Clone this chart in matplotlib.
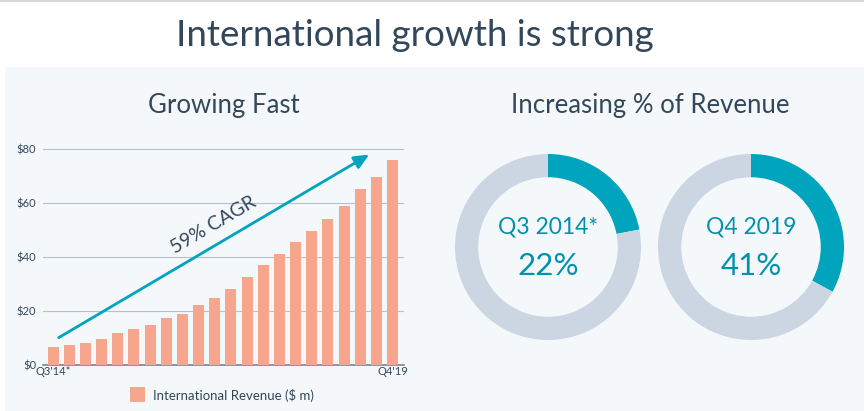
import matplotlib
matplotlib.use("Agg")
import matplotlib.pyplot as plt
from matplotlib.patches import Rectangle

plt.rcParams['font.family'] = ['Lato', 'DejaVu Sans']

# quarterly international revenue, Q3'14 .. Q4'19 ($ m)
quarters = ["Q3'14*", "Q4'14", "Q1'15", "Q2'15", "Q3'15", "Q4'15", "Q1'16", "Q2'16",
            "Q3'16", "Q4'16", "Q1'17", "Q2'17", "Q3'17", "Q4'17", "Q1'18", "Q2'18",
            "Q3'18", "Q4'18", "Q1'19", "Q2'19", "Q3'19", "Q4'19"]
revenue = [6.5, 7.5, 8.3, 9.8, 11.8, 13.3, 15.0, 17.3, 19.0, 22.3, 25.0, 28.3,
           32.5, 37.0, 41.3, 45.5, 49.5, 54.0, 59.0, 65.3, 69.8, 76.0]
y_ticks = [0, 20, 40, 60, 80]
y_tick_labels = ['$0', '$20', '$40', '$60', '$80']

donut_labels = ['Q3 2014*', 'Q4 2019']
intl_share = [22, 41]
# the arcs as drawn on the slide (the 2019 one is shorter than its label)
arc_share = [22, 33]

BG = '#f5f8fa'
TEAL = '#00a4bd'
TEAL_TXT = '#0091ae'
GREY = '#cbd6e2'
BAR = '#f8a58e'
DARK = '#33475b'

W, H = 864, 411
fig = plt.figure(figsize=(W / 100, H / 100), dpi=100)
fig.patch.set_facecolor('white')

# light panel below the header
fig.patches.append(Rectangle((5 / W, 0), 1 - 5 / W, (H - 67) / H, transform=fig.transFigure,
                             facecolor=BG, edgecolor='none', zorder=-2))
fig.patches.append(Rectangle((0, 1 - 2 / H), 1, 2 / H, transform=fig.transFigure,
                             facecolor='#d9d9d9', edgecolor='none', zorder=-2))

fig.text(415 / W, 1 - 35 / H, 'International growth is strong', ha='center', va='center',
         fontsize=26.5, color=DARK)
fig.text(224 / W, 1 - 105 / H, 'Growing Fast', ha='center', va='center',
         fontsize=18.5, color=DARK)
fig.text(650 / W, 1 - 105 / H, 'Increasing % of Revenue', ha='center', va='center',
         fontsize=18.5, color=DARK)

# bar chart
ax = fig.add_axes([43 / W, (H - 365) / H, 361 / W, 217 / H])
ax.set_facecolor('none')
x = list(range(len(revenue)))
ax.bar(x, revenue, width=0.68, color=BAR, zorder=3)
ax.set_xlim(-0.62, len(revenue) - 0.3)
ax.set_ylim(0, 80.4)
ax.set_yticks(y_ticks)
ax.set_yticklabels(y_tick_labels, fontsize=8, color=DARK)
ax.yaxis.grid(True, color='#b8c0c8', linewidth=0.8, zorder=0)
ax.tick_params(axis='y', length=0, pad=5)
ax.tick_params(axis='x', length=0, pad=1)
ax.set_xticks([x[0], x[-1]])
ax.set_xticklabels([quarters[0], quarters[-1]], fontsize=8, color=DARK)
for s in ['top', 'right', 'left']:
    ax.spines[s].set_visible(False)
ax.spines['bottom'].set_color('#7a8591')
ax.spines['bottom'].set_linewidth(1.2)

ax.annotate('', xy=(19.7, 78.5), xytext=(0.2, 9.6),
            arrowprops=dict(arrowstyle='-|>,head_length=0.9,head_width=0.4',
                            color=TEAL, lw=2), zorder=5)
ax.text(9.9, 52, '59% CAGR', rotation=30.5, ha='center', va='center',
        fontsize=14, color=DARK, rotation_mode='anchor')

# legend
fig.patches.append(Rectangle((130 / W, 1 - 402 / H), 15 / W, 15 / H, transform=fig.transFigure,
                             facecolor=BAR, edgecolor='none'))
fig.text(153 / W, 1 - 395 / H, 'International Revenue ($ m)', ha='left', va='center',
         fontsize=9.5, color=DARK)

# donuts
centers = [548, 751]
R = 93
for cx, lab, share, arc in zip(centers, donut_labels, intl_share, arc_share):
    dax = fig.add_axes([(cx - R * 1.05) / W, (H - 247 - R * 1.05) / H,
                        2.1 * R / W, 2.1 * R / H])
    dax.pie([arc, 100 - arc], colors=[TEAL, GREY], startangle=90, counterclock=False,
            radius=1, wedgeprops=dict(width=0.25, edgecolor='none'))
    dax.set_xlim(-1.05, 1.05)
    dax.set_ylim(-1.05, 1.05)
    dax.set_aspect('equal')
    dax.axis('off')
    dax.text(0, 0.22, lab, ha='center', va='center', fontsize=16.5, color=TEAL_TXT)
    dax.text(0, -0.2, f'{share}%', ha='center', va='center', fontsize=22.5, color=TEAL_TXT)

fig.savefig('out.png', dpi=100, facecolor=fig.get_facecolor())
